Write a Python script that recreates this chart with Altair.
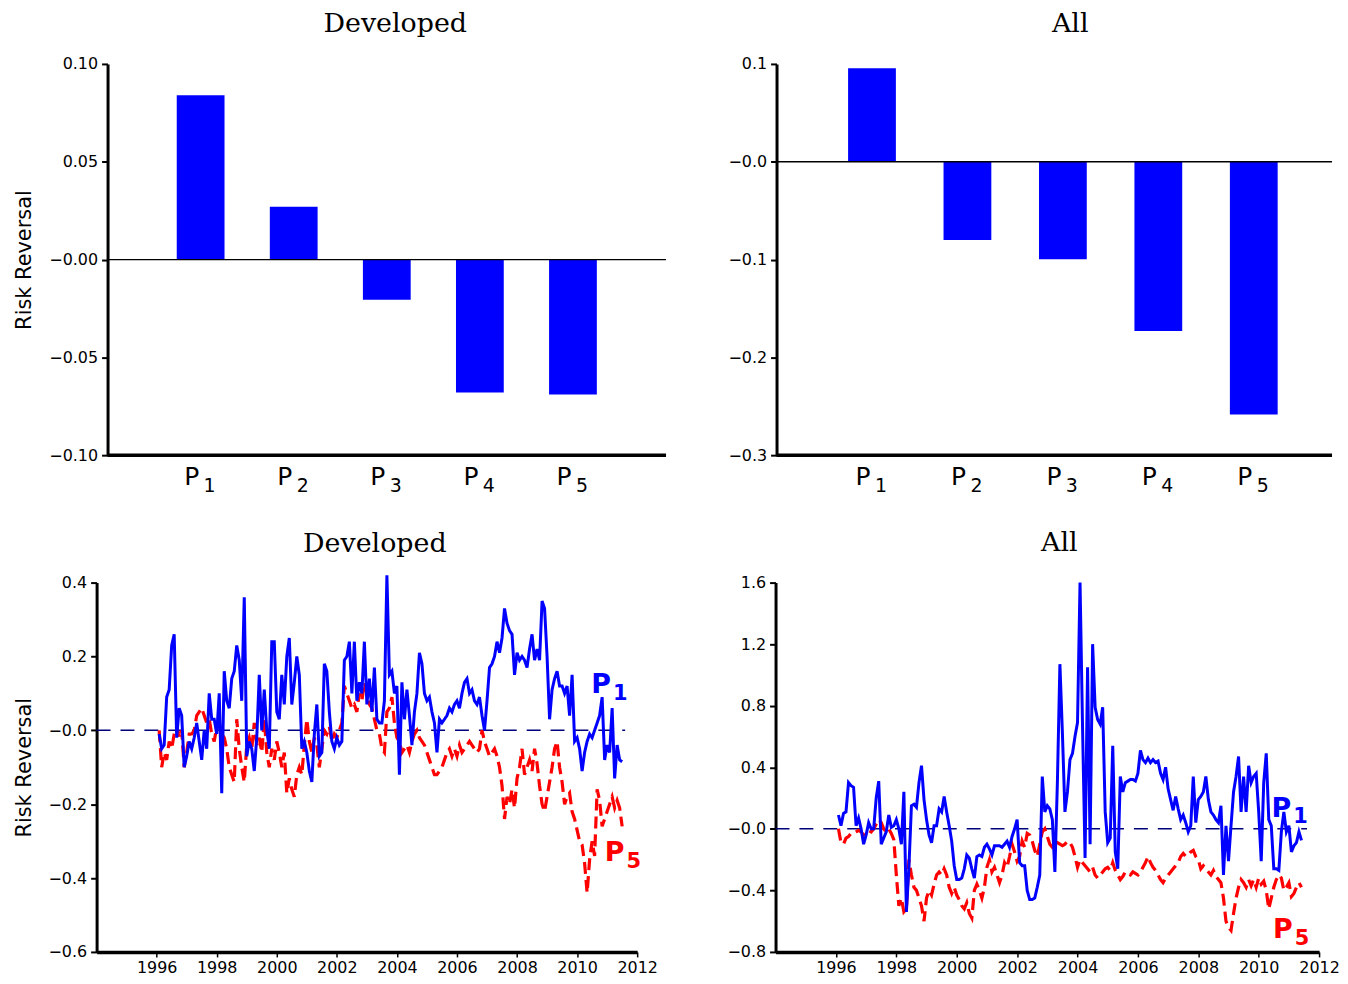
import altair as alt
import pandas as pd

# ---------------- data ----------------
portfolios = [1, 2, 3, 4, 5]
portfolio_digits = ["1", "2", "3", "4", "5"]
developed_bars = [0.084, 0.027, -0.0205, -0.068, -0.069]
all_bars = [0.0957, -0.080, -0.0997, -0.173, -0.2585]

year_ticks = [1996, 1998, 2000, 2002, 2004, 2006, 2008, 2010, 2012]

# monthly values, Feb 1996 onward (one line per year)
dev_p1 = [
    -0.01, -0.05, -0.04, 0.09, 0.11, 0.23, 0.26, -0.02, 0.06, 0.04, -0.10,
    -0.07, -0.03, -0.05, -0.02, 0.02, -0.03, -0.08, 0.00, -0.05, 0.10, 0.03, 0.03,
    -0.01, 0.10, -0.17, 0.16, 0.08, 0.06, 0.14, 0.16, 0.23, 0.19, 0.08, 0.36,
    -0.07, -0.03, -0.05, -0.11, -0.02, 0.15, 0.00, 0.11, 0.00, -0.05, 0.24, 0.24,
    0.05, 0.03, 0.15, 0.07, 0.20, 0.25, 0.07, 0.13, 0.20, 0.15, -0.05, -0.03,
    -0.06, -0.11, -0.14, -0.01, 0.07, -0.07, -0.06, 0.18, 0.16, 0.05, -0.03, -0.05,
    -0.02, -0.04, -0.03, 0.19, 0.20, 0.24, 0.10, 0.24, 0.08, 0.13, 0.10, 0.24,
    0.07, 0.14, 0.05, 0.17, 0.03, 0.02, 0.02, 0.08, 0.42, 0.15, 0.16, 0.10,
    0.12, -0.12, 0.13, 0.03, 0.11, 0.04, -0.04, 0.05, 0.10, 0.21, 0.18, 0.10,
    0.08, 0.09, 0.05, 0.02, -0.06, 0.03, 0.02, 0.03, 0.04, 0.06, 0.05, 0.07,
    0.08, 0.06, 0.10, 0.13, 0.14, 0.10, 0.11, 0.08, 0.07, 0.09, 0.04, 0.00,
    0.08, 0.17, 0.18, 0.20, 0.24, 0.21, 0.25, 0.33, 0.29, 0.27, 0.26, 0.15,
    0.21, 0.19, 0.20, 0.19, 0.17, 0.22, 0.26, 0.19, 0.22, 0.19, 0.35, 0.33,
    0.20, 0.03, 0.11, 0.14, 0.16, 0.12, 0.12, 0.10, 0.12, 0.04, 0.15, -0.03,
    -0.02, -0.05, -0.11, -0.06, -0.03, -0.01, -0.02, 0.00, 0.02, 0.04, 0.09, -0.08,
    -0.04, -0.06, 0.06, -0.13, -0.04, -0.08, -0.085,
]
dev_p5 = [
    0.00, -0.10, -0.06, -0.08, -0.03, -0.05, -0.01, 0.01, -0.02, 0.00, -0.10,
    -0.06, -0.01, -0.01, 0.00, 0.04, 0.05, 0.06, 0.04, 0.02, 0.03, -0.01, -0.03,
    0.01, 0.02, -0.01, -0.02, -0.05, -0.10, -0.12, -0.14, 0.03, -0.05, -0.10, -0.14,
    -0.04, -0.02, -0.05, 0.02, -0.04, -0.02, -0.06, 0.03, -0.06, -0.10, -0.05, -0.08,
    -0.03, -0.06, -0.10, -0.06, -0.17, -0.13, -0.16, -0.18, -0.12, -0.10, -0.12, -0.04,
    0.03, -0.03, -0.06, -0.02, -0.04, -0.10, -0.05, 0.00, -0.01, 0.01, -0.03, -0.01,
    -0.02, 0.00, 0.02, 0.12, 0.10, 0.08, 0.06, 0.07, 0.05, 0.10, 0.08, 0.13,
    0.10, 0.07, 0.06, 0.03, 0.00, -0.01, -0.05, -0.06, 0.05, 0.06, 0.09, 0.02,
    -0.02, -0.03, -0.06, -0.05, -0.04, -0.06, -0.03, -0.01, 0.00, -0.02, -0.03, -0.04,
    -0.06, -0.08, -0.10, -0.12, -0.12, -0.11, -0.10, -0.08, -0.06, -0.05, -0.07, -0.05,
    -0.07, -0.04, -0.06, -0.05, -0.04, -0.03, -0.04, -0.05, -0.06, -0.05, 0.00, -0.03,
    -0.05, -0.07, -0.06, -0.05, -0.07, -0.10, -0.15, -0.24, -0.18, -0.20, -0.16, -0.21,
    -0.13, -0.10, -0.05, -0.12, -0.10, -0.08, -0.11, -0.05, -0.09, -0.15, -0.20, -0.22,
    -0.18, -0.14, -0.10, -0.05, -0.03, -0.10, -0.14, -0.20, -0.18, -0.17, -0.22, -0.24,
    -0.27, -0.30, -0.31, -0.36, -0.44, -0.35, -0.30, -0.34, -0.16, -0.19, -0.26, -0.24,
    -0.22, -0.20, -0.18, -0.21, -0.19, -0.21, -0.26,
]
all_p1 = [
    0.09, 0.02, 0.10, 0.11, 0.30, 0.28, 0.27, 0.02, 0.07, 0.00, -0.10,
    -0.04, 0.04, 0.00, 0.00, 0.20, 0.31, -0.10, -0.06, -0.02, 0.09, 0.01, 0.02,
    0.06, 0.00, -0.10, 0.24, -0.54, -0.25, 0.15, 0.16, 0.14, 0.30, 0.41, 0.19,
    0.06, -0.04, -0.09, 0.02, 0.02, 0.13, 0.11, 0.21, 0.11, 0.02, -0.08, -0.24,
    -0.33, -0.33, -0.32, -0.26, -0.17, -0.19, -0.26, -0.32, -0.18, -0.17, -0.18, -0.12,
    -0.10, -0.13, -0.17, -0.11, -0.11, -0.11, -0.12, -0.10, -0.08, -0.12, -0.05, 0.00,
    0.06, -0.22, -0.24, -0.24, -0.40, -0.46, -0.46, -0.45, -0.38, -0.30, 0.34, 0.11,
    0.15, 0.13, 0.06, -0.28, 0.30, 1.07, 0.62, 0.11, 0.24, 0.45, 0.49, 0.60,
    0.69, 1.60, 0.66, -0.19, 1.05, -0.10, 1.20, 0.79, 0.71, 0.68, 0.79, 0.11,
    -0.09, -0.06, 0.54, -0.15, -0.26, 0.34, 0.24, 0.30, 0.31, 0.32, 0.32, 0.31,
    0.36, 0.51, 0.45, 0.43, 0.46, 0.43, 0.45, 0.43, 0.44, 0.36, 0.32, 0.40,
    0.26, 0.19, 0.12, 0.21, 0.13, 0.06, 0.09, 0.04, -0.02, 0.02, 0.34, 0.04,
    0.19, 0.21, 0.24, 0.34, 0.19, 0.11, 0.09, 0.06, 0.04, 0.15, -0.30, 0.02,
    -0.21, 0.02, 0.24, 0.34, 0.47, 0.11, 0.34, 0.11, 0.41, 0.30, 0.34, 0.36,
    0.11, -0.21, 0.30, 0.49, 0.06, 0.02, -0.26, -0.26, -0.27, -0.02, 0.11, -0.02,
    0.02, -0.15, -0.11, -0.09, -0.02, -0.075,
]
all_p5 = [
    0.00, -0.09, -0.10, -0.06, -0.05, -0.03, -0.03, -0.02, -0.01, -0.02, -0.04,
    -0.03, -0.01, -0.02, 0.00, 0.03, 0.06, 0.04, 0.00, -0.02, 0.00, -0.03, -0.07,
    -0.30, -0.50, -0.45, -0.54, -0.52, -0.20, -0.30, -0.38, -0.40, -0.45, -0.50, -0.60,
    -0.45, -0.40, -0.43, -0.36, -0.30, -0.28, -0.30, -0.26, -0.30, -0.38, -0.42, -0.38,
    -0.43, -0.46, -0.50, -0.52, -0.48, -0.55, -0.58, -0.40, -0.36, -0.40, -0.45, -0.38,
    -0.25, -0.20, -0.28, -0.25, -0.30, -0.35, -0.30, -0.22, -0.25, -0.18, -0.10, -0.15,
    -0.21, -0.18, -0.08, -0.12, -0.03, -0.04, -0.08, -0.14, -0.18, -0.10, -0.02, 0.00,
    -0.05, -0.10, -0.12, -0.10, -0.09, -0.10, -0.11, -0.10, -0.08, -0.09, -0.12, -0.18,
    -0.25, -0.20, -0.22, -0.24, -0.26, -0.28, -0.25, -0.30, -0.32, -0.30, -0.28, -0.26,
    -0.25, -0.27, -0.22, -0.27, -0.30, -0.33, -0.31, -0.28, -0.29, -0.30, -0.28, -0.29,
    -0.30, -0.28, -0.25, -0.22, -0.18, -0.22, -0.25, -0.27, -0.30, -0.33, -0.35, -0.32,
    -0.30, -0.28, -0.26, -0.24, -0.22, -0.18, -0.16, -0.18, -0.17, -0.15, -0.14, -0.18,
    -0.20, -0.26, -0.24, -0.26, -0.28, -0.30, -0.27, -0.31, -0.33, -0.35, -0.45, -0.60,
    -0.64, -0.66, -0.55, -0.45, -0.38, -0.33, -0.35, -0.38, -0.33, -0.37, -0.33, -0.38,
    -0.32, -0.36, -0.34, -0.40, -0.52, -0.45, -0.38, -0.33, -0.30, -0.32, -0.40, -0.38,
    -0.35, -0.44, -0.42, -0.38, -0.35, -0.38,
]

# end-of-line labels (year, value)
dev_label_p1 = (2010.8, 0.10)
dev_label_p5 = (2011.25, -0.355)
all_label_p1 = (2010.75, 0.08)
all_label_p5 = (2010.8, -0.71)

BLUE = "#0000ff"
RED = "#ff0000"
NAVY = "#00007a"
SANS = "DejaVu Sans"
SERIF = "DejaVu Serif"


def minus_label(decimals):
    return ("(datum.value > 1e-9 ? '' : '\u2212') + "
            f"format(abs(datum.value), '.{decimals}f')")


def title_params(text, dx, dy=-6):
    return alt.TitleParams(text, font=SERIF, fontSize=27, fontWeight="normal",
                           color="black", anchor="middle", offset=12, dy=dy, dx=dx)


def y_axis(ticks, decimals, ytitle, offset=0):
    kw = dict(values=ticks, labelExpr=minus_label(decimals), tickSize=6, tickWidth=2,
              labelPadding=4, domainWidth=3, grid=False, labelFont=SANS,
              labelFontSize=16, labelColor="black", offset=offset)
    if ytitle:
        kw.update(title=ytitle, titleFont=SANS, titleFontSize=21,
                  titleFontWeight="normal", titlePadding=14, titleColor="black")
    else:
        kw.update(title=None)
    return alt.Axis(**kw)


def bar_panel(values, ydomain, yticks, decimals, xmax, width, height, title, ytitle,
              inset, tdx):
    # `inset`: pixels between the plot's left edge and the drawn value axis
    xmin = -xmax * inset / (width - inset)
    df = pd.DataFrame({"pos": portfolios, "value": values, "digit": portfolio_digits})
    xs = alt.Scale(domain=[xmin, xmax], nice=False, zero=False, padding=0)
    ys = alt.Scale(domain=ydomain, nice=False, zero=False)
    x = alt.X("pos:Q", scale=xs, axis=None)
    y = alt.Y("value:Q", scale=ys, axis=y_axis(yticks, decimals, ytitle, offset=-inset))
    bars = alt.Chart(df).mark_bar(color=BLUE, size=48).encode(x=x, y=y, y2=alt.datum(0))
    frame = pd.DataFrame({"a": [0.0, 0.0], "b": [xmax, xmax],
                          "y": [0.0, ydomain[0]]})
    zero = alt.Chart(frame.iloc[[0]]).mark_rule(color="black", strokeWidth=1.3).encode(
        x="a:Q", x2="b:Q", y="y:Q")
    base = alt.Chart(frame.iloc[[1]]).mark_rule(color="black", strokeWidth=3.5).encode(
        x="a:Q", x2="b:Q", y="y:Q")
    p_txt = alt.Chart(df).mark_text(text="P", font=SANS, fontSize=25, align="center",
                                    baseline="alphabetic", dx=-9).encode(
        x="pos:Q", y=alt.value(height + 30))
    d_txt = alt.Chart(df).mark_text(font=SANS, fontSize=19, align="left",
                                    baseline="alphabetic", dx=3).encode(
        x="pos:Q", y=alt.value(height + 37), text="digit:N")
    return alt.layer(bars, zero, base, p_txt, d_txt).properties(
        width=width, height=height, title=title_params(title, tdx))


def monthly_frame(vals):
    return pd.DataFrame({"t": [1996 + (1 + i) / 12 for i in range(len(vals))], "v": vals})


def ts_panel(p1, p5, ydomain, yticks, width, height, title, ytitle, lab1, lab5, tdx, tdy):
    xs = alt.Scale(domain=[1994, 2012], nice=False, zero=False)
    ys = alt.Scale(domain=ydomain, nice=False, zero=False)
    x = alt.X("t:Q", scale=xs,
              axis=alt.Axis(values=year_ticks, format="d", title=None, tickSize=5,
                            tickWidth=1.5, domainWidth=3.5, grid=False, labelFont=SANS,
                            labelFontSize=16, labelColor="black", labelFlush=False,
                            labelOverlap=False, labelPadding=3))
    y = alt.Y("v:Q", scale=ys, axis=y_axis(yticks, 1, ytitle))
    zero = alt.Chart(pd.DataFrame({"a": [1994.0], "b": [2011.6], "z": [0.0]})).mark_rule(
        color=NAVY, strokeWidth=1.5, strokeDash=[14, 10]).encode(
        x=alt.X("a:Q", scale=xs), x2="b:Q", y=alt.Y("z:Q", scale=ys))
    blue = alt.Chart(monthly_frame(p1)).mark_line(
        color=BLUE, strokeWidth=3).encode(x=x, y=y, order="t:Q")
    red = alt.Chart(monthly_frame(p5)).mark_line(
        color=RED, strokeWidth=3.2, strokeDash=[12, 6]).encode(x="t:Q", y="v:Q", order="t:Q")
    labs = pd.DataFrame({"t": [lab1[0], lab5[0]], "v": [lab1[1], lab5[1]],
                         "d": ["1", "5"], "c": [BLUE, RED]})
    p_txt = alt.Chart(labs).mark_text(text="P", font=SANS, fontSize=27, fontWeight="bold",
                                      align="center", baseline="alphabetic").encode(
        x="t:Q", y="v:Q", color=alt.Color("c:N", scale=None))
    d_txt = alt.Chart(labs).mark_text(font=SANS, fontSize=21, fontWeight="bold",
                                      align="left", baseline="alphabetic", dx=12, dy=7).encode(
        x="t:Q", y="v:Q", text="d:N", color=alt.Color("c:N", scale=None))
    return alt.layer(zero, red, blue, p_txt, d_txt).properties(
        width=width, height=height, title=title_params(title, tdx, tdy))


tl = bar_panel(developed_bars, [-0.10, 0.10], [-0.10, -0.05, 0.0, 0.05, 0.10], 2,
               6, 572, 393, "Developed", "Risk  Reversal", 11, 14)
tr = bar_panel(all_bars, [-0.3, 0.1], [-0.3, -0.2, -0.1, 0.0, 0.1], 1,
               5.82, 558, 393, "All", None, 0, 16)
bl = ts_panel(dev_p1, dev_p5, [-0.6, 0.4], [-0.6, -0.4, -0.2, 0.0, 0.2, 0.4],
              543, 371, "Developed", "Risk  Reversal", dev_label_p1, dev_label_p5, 8, 1)
br = ts_panel(all_p1, all_p5, [-0.8, 1.6], [-0.8, -0.4, 0.0, 0.4, 0.8, 1.2, 1.6],
              546, 371, "All", None, all_label_p1, all_label_p5, 12, -6)

chart = alt.vconcat(
    alt.hconcat(tl, tr, spacing=60),
    alt.hconcat(bl, br, spacing=69),
    spacing=33,
).properties(
    padding={"left": 5, "top": 0, "right": 0, "bottom": 0}
).configure_view(stroke=None).configure_axis(
    domainColor="black", tickColor="black"
)

chart.save("out.html", embed_options={"renderer": "svg", "actions": False})
